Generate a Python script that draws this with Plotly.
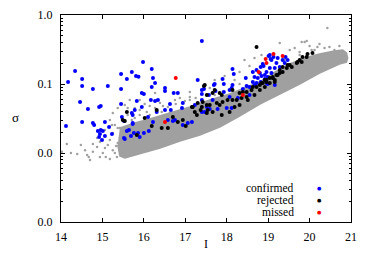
import plotly.graph_objects as go

# ---------------- data ----------------
confirmed_I = [14.17, 14.34, 14.51, 14.51, 14.77, 15.13, 15.45, 15.45, 15.59, 15.71, 15.81, 15.87,
               14.46, 14.65, 14.92, 14.96, 15.45, 15.83, 15.78, 15.47, 15.52, 15.73, 14.12, 14.51,
               14.77, 14.80, 15.06, 15.16, 14.96, 14.89, 15.01, 14.94, 14.92, 15.06, 14.99, 15.23,
               15.59, 15.64, 15.73, 15.86, 15.69, 16.00, 16.12, 15.52, 15.90, 15.98, 16.22, 16.27,
               16.19, 16.51, 16.51, 15.95, 16.00, 16.72, 16.82, 17.30, 17.40, 17.40, 17.57, 16.17,
               16.27, 16.34, 16.63, 16.94, 15.71, 15.95, 16.31, 16.51, 16.65, 16.92, 17.23, 17.47,
               15.73, 16.10, 16.22, 16.58, 16.75, 17.16, 17.40, 16.19, 17.69, 17.90, 18.12, 18.46,
               18.48, 19.01, 19.06, 18.87, 18.89, 18.82, 18.14, 18.17, 18.63, 18.72, 18.80, 18.96,
               18.67, 18.75, 18.84, 18.63, 18.72, 18.82, 18.92, 18.99, 17.93, 17.71, 18.14, 17.45,
               17.73, 17.93, 18.07, 18.39, 18.55, 18.67, 18.96, 19.16, 17.40, 17.66, 18.07, 18.27,
               18.55, 17.52, 17.59, 17.78, 18.00, 18.12, 17.40, 19.13, 19.04, 19.08, 19.23, 19.35,
               19.47, 19.42, 19.20, 19.40, 19.04, 19.16, 19.28, 19.08, 18.92, 18.99, 15.54, 15.76,
               17.06, 16.94, 16.70]
confirmed_sigma = [0.107, 0.154, 0.118, 0.0936, 0.0847, 0.0936, 0.140, 0.0847, 0.118, 0.149, 0.131, 0.127,
                   0.0548, 0.0434, 0.0464, 0.0479, 0.0512, 0.0567, 0.0420, 0.0332, 0.0291, 0.0355, 0.0246, 0.0281,
                   0.0272, 0.0255, 0.0281, 0.0238, 0.0216, 0.0208, 0.0208, 0.0188, 0.0171, 0.0176, 0.0154, 0.0188,
                   0.0208, 0.0216, 0.0263, 0.0195, 0.0176, 0.0195, 0.0208, 0.0165, 0.0171, 0.208, 0.122, 0.103,
                   0.0905, 0.0875, 0.0792, 0.0741, 0.0716, 0.0741, 0.0741, 0.114, 0.0819, 0.0716, 0.0693, 0.0586,
                   0.0567, 0.0586, 0.0512, 0.0530, 0.0380, 0.0464, 0.0392, 0.0420, 0.0420, 0.0448, 0.0496, 0.0392,
                   0.0272, 0.0332, 0.0281, 0.0301, 0.0301, 0.0281, 0.420, 0.165, 0.0968, 0.118, 0.0875, 0.122,
                   0.0936, 0.255, 0.230, 0.195, 0.182, 0.176, 0.165, 0.140, 0.149, 0.160, 0.144, 0.149,
                   0.126, 0.122, 0.131, 0.107, 0.103, 0.107, 0.118, 0.126, 0.100, 0.100, 0.0968, 0.0847,
                   0.0792, 0.0766, 0.0819, 0.0847, 0.0905, 0.0968, 0.103, 0.0968, 0.0586, 0.0586, 0.0648, 0.0627,
                   0.0693, 0.0464, 0.0434, 0.0434, 0.0448, 0.0448, 0.0392, 0.246, 0.263, 0.223, 0.238, 0.223,
                   0.223, 0.246, 0.202, 0.202, 0.171, 0.171, 0.176, 0.144, 0.135, 0.100, 0.0160, 0.0195,
                   0.0272, 0.0255, 0.0291]

rejected_I = [15.59, 15.54, 17.30, 17.42, 17.52, 17.16, 17.23, 17.37, 16.02, 16.58, 16.43, 16.82,
              16.94, 17.28, 17.52, 16.70, 15.83, 16.19, 17.01, 18.72, 17.47, 17.52, 17.66, 17.83,
              17.88, 18.14, 18.31, 18.48, 18.60, 18.72, 18.84, 18.96, 19.11, 19.23, 18.36, 18.24,
              18.02, 17.90, 17.76, 17.83, 17.59, 17.40, 17.66, 17.88, 18.07, 18.19, 18.31, 18.51,
              18.67, 18.80, 18.92, 19.04, 19.16, 19.95, 19.83, 19.76, 19.81, 19.69, 19.57, 19.47,
              19.45, 19.35, 19.28, 19.20, 19.11, 19.04, 19.16, 18.96, 18.87, 18.80, 20.07, 19.93,
              19.71, 19.52, 19.35, 19.28, 18.92, 18.63, 18.39, 18.48, 17.71, 17.18, 17.54, 18.14,
              16.31, 15.49, 17.45]
rejected_sigma = [0.0392, 0.0291, 0.0530, 0.0548, 0.0496, 0.0464, 0.0392, 0.0420, 0.0321, 0.0230, 0.0230, 0.0281,
                  0.0301, 0.0355, 0.0380, 0.0332, 0.0182, 0.0246, 0.0246, 0.344, 0.0968, 0.0693, 0.0741, 0.0741,
                  0.0693, 0.0819, 0.0741, 0.0766, 0.0819, 0.0905, 0.103, 0.114, 0.122, 0.135, 0.0627, 0.0586,
                  0.0586, 0.0548, 0.0530, 0.0496, 0.0496, 0.0464, 0.0392, 0.0355, 0.0392, 0.0464, 0.0496, 0.0586,
                  0.0693, 0.0819, 0.0905, 0.103, 0.107, 0.272, 0.246, 0.223, 0.208, 0.202, 0.176, 0.188,
                  0.171, 0.149, 0.144, 0.135, 0.126, 0.122, 0.114, 0.107, 0.103, 0.0968, 0.281, 0.246,
                  0.208, 0.188, 0.176, 0.160, 0.114, 0.0905, 0.0766, 0.0648, 0.0819, 0.0464, 0.0420, 0.0586,
                  0.0420, 0.0301, 0.0936]

missed_I = [16.77, 16.51, 19.13, 19.35, 18.94, 18.96, 18.77, 18.39]
missed_sigma = [0.122, 0.0281, 0.272, 0.255, 0.230, 0.202, 0.149, 0.0693]

# sparse field stars outside the dense locus
field_I = [14.14, 14.24, 14.39, 14.48, 14.63, 14.67, 14.77, 14.87, 14.77, 14.94, 15.01, 15.08,
           15.18, 15.25, 15.30, 15.35, 15.37, 15.42, 15.25, 15.18, 14.94, 14.87, 14.02, 14.58,
           14.70, 15.06, 15.13, 15.33, 15.90, 16.02, 16.14, 16.39, 16.46, 16.75, 16.87, 16.99,
           17.11, 16.14, 15.90, 15.78, 16.02, 16.39, 16.63, 16.82, 17.06, 15.42, 15.30, 15.18,
           15.25, 15.37, 15.54, 15.66, 15.78, 16.27, 17.11, 17.59, 17.71, 17.95, 18.19, 18.31,
           18.55, 18.43, 18.67, 18.84, 19.28, 19.81, 19.88, 19.93, 20.43, 19.52, 19.64, 20.00,
           20.19, 20.36, 20.60, 19.76, 20.05, 20.24,
           15.61, 15.71, 15.90, 16.07, 16.27, 16.43, 16.58, 16.77, 16.96, 17.11, 17.25, 17.71,
           18.31, 19.40, 19.76, 20.12, 20.48, 20.72, 15.54, 15.37, 15.23, 15.06, 15.61]
field_sigma = [0.0135, 0.0100, 0.00967, 0.0131, 0.00935, 0.00875, 0.0135, 0.0122, 0.0104, 0.00875, 0.0100, 0.00875,
               0.00819, 0.0110, 0.0100, 0.00875, 0.0140, 0.0165, 0.0195, 0.0154, 0.0145, 0.0165, 0.0104, 0.0110,
               0.00792, 0.0118, 0.0131, 0.0126, 0.0586, 0.0512, 0.0479, 0.0530, 0.0479, 0.0586, 0.0627, 0.0567,
               0.0648, 0.0355, 0.0355, 0.0321, 0.0281, 0.0321, 0.0380, 0.0392, 0.0392, 0.0230, 0.0255, 0.0301,
               0.0380, 0.0448, 0.0496, 0.0586, 0.0448, 0.0741, 0.0766, 0.0875, 0.114, 0.131, 0.114, 0.149,
               0.182, 0.223, 0.238, 0.263, 0.393, 0.406, 0.406, 0.420, 0.648, 0.311, 0.332, 0.355,
               0.344, 0.332, 0.311, 0.291, 0.311, 0.380,
               0.0355, 0.0301, 0.0420, 0.0392, 0.0448, 0.0392, 0.0464, 0.0512, 0.0420, 0.0586, 0.0627, 0.0693,
               0.100, 0.223, 0.263, 0.311, 0.344, 0.355, 0.0182, 0.0230, 0.0255, 0.0216, 0.0448]

# outline of the dense locus of field stars
band_upper_I = [15.42, 15.78, 16.14, 16.63, 17.11, 17.59, 18.07, 18.43, 18.80, 19.16, 19.52, 19.88,
                20.24, 20.60, 20.80, 20.89, 20.92]
band_upper_sigma = [0.0230, 0.0272, 0.0311, 0.0380, 0.0464, 0.0586, 0.0716, 0.0875, 0.107, 0.149, 0.195, 0.238,
                    0.272, 0.301, 0.311, 0.281, 0.238]
band_lower_I = [20.89, 20.72, 20.24, 19.76, 19.28, 18.80, 18.31, 17.83, 17.35, 16.87, 16.39, 15.90,
                15.54, 15.42, 15.37]
band_lower_sigma = [0.208, 0.195, 0.144, 0.100, 0.0716, 0.0512, 0.0343, 0.0238, 0.0182, 0.0149, 0.0118, 0.00967,
                    0.00846, 0.00905, 0.0131]

y_tickvals = [0.001, 0.01, 0.1, 1.0]
y_ticktext = ["0.0", "0.0", "0.1", "1.0"]
x_tickvals = [14, 15, 16, 17, 18, 19, 20, 21]
legend_labels = ["confirmed", "rejected", "missed"]

GREY = "rgb(160,160,160)"
BLUE = "rgb(0,0,255)"
BLACK = "rgb(0,0,0)"
RED = "rgb(255,0,0)"
FONT = "Liberation Serif, Times New Roman, serif"

fig = go.Figure()

fig.add_trace(go.Scatter(
    x=band_upper_I + band_lower_I, y=band_upper_sigma + band_lower_sigma,
    mode="lines", fill="toself", fillcolor=GREY,
    line=dict(color=GREY, width=1.5), hoverinfo="skip", showlegend=False))
fig.add_trace(go.Scatter(
    x=field_I, y=field_sigma, mode="markers",
    marker=dict(color=GREY, size=2.5, line=dict(width=0)), showlegend=False))
fig.add_trace(go.Scatter(
    x=confirmed_I, y=confirmed_sigma, mode="markers", name=legend_labels[0],
    marker=dict(color=BLUE, size=4, line=dict(width=0)), showlegend=False))
fig.add_trace(go.Scatter(
    x=rejected_I, y=rejected_sigma, mode="markers", name=legend_labels[1],
    marker=dict(color=BLACK, size=4, line=dict(width=0)), showlegend=False))
fig.add_trace(go.Scatter(
    x=missed_I, y=missed_sigma, mode="markers", name=legend_labels[2],
    marker=dict(color=RED, size=4, line=dict(width=0)), showlegend=False))

annotations = [
    dict(text="σ", x=-0.176, y=0.507, xref="paper", yref="paper", showarrow=False,
         font=dict(family=FONT, size=13, color="black")),
    dict(text="I", x=0.5, y=-0.15, xref="paper", yref="paper", showarrow=False,
         font=dict(family=FONT, size=12, color="black")),
]
legend_y = [0.166, 0.106, 0.046]
legend_colors = [BLUE, BLACK, RED]
for lab, yy, col in zip(legend_labels, legend_y, legend_colors):
    annotations.append(dict(text=lab, x=0.807, y=yy, xref="paper", yref="paper",
                            xanchor="right", yanchor="middle", showarrow=False, borderpad=0,
                            font=dict(family=FONT, size=11.5, color="black")))
    annotations.append(dict(text="●", x=0.893, y=yy, xref="paper", yref="paper",
                            xanchor="center", yanchor="middle", showarrow=False, borderpad=0,
                            font=dict(family="DejaVu Sans", size=5, color=col)))

# the page body adds an 8px offset, so the margins are shifted to keep
# the plot area where the reference has it
fig.update_layout(
    width=374, height=262,
    margin=dict(l=53, r=31, t=7, b=48),
    paper_bgcolor="white", plot_bgcolor="white",
    font=dict(family=FONT, size=12, color="black"),
    showlegend=False,
    annotations=annotations,
    xaxis=dict(range=[14, 21], tickvals=x_tickvals, ticks="inside", ticklen=4,
               tickcolor="black", showline=True, linecolor="black", linewidth=1,
               mirror="ticks", showgrid=False, zeroline=False, automargin=False,
               ticklabelstandoff=4, tickfont=dict(family=FONT, size=12)),
    yaxis=dict(type="log", range=[-3, 0], tickvals=y_tickvals, ticktext=y_ticktext,
               ticks="inside", ticklen=4, tickcolor="black", showline=True,
               linecolor="black", linewidth=1, mirror="ticks", showgrid=False,
               zeroline=False, automargin=False, ticklabelstandoff=5,
               tickfont=dict(family=FONT, size=12),
               minor=dict(ticks="inside", ticklen=2, tickcolor="black", dtick="D1",
                          showgrid=False)),
)

fig.write_html("out.html")
